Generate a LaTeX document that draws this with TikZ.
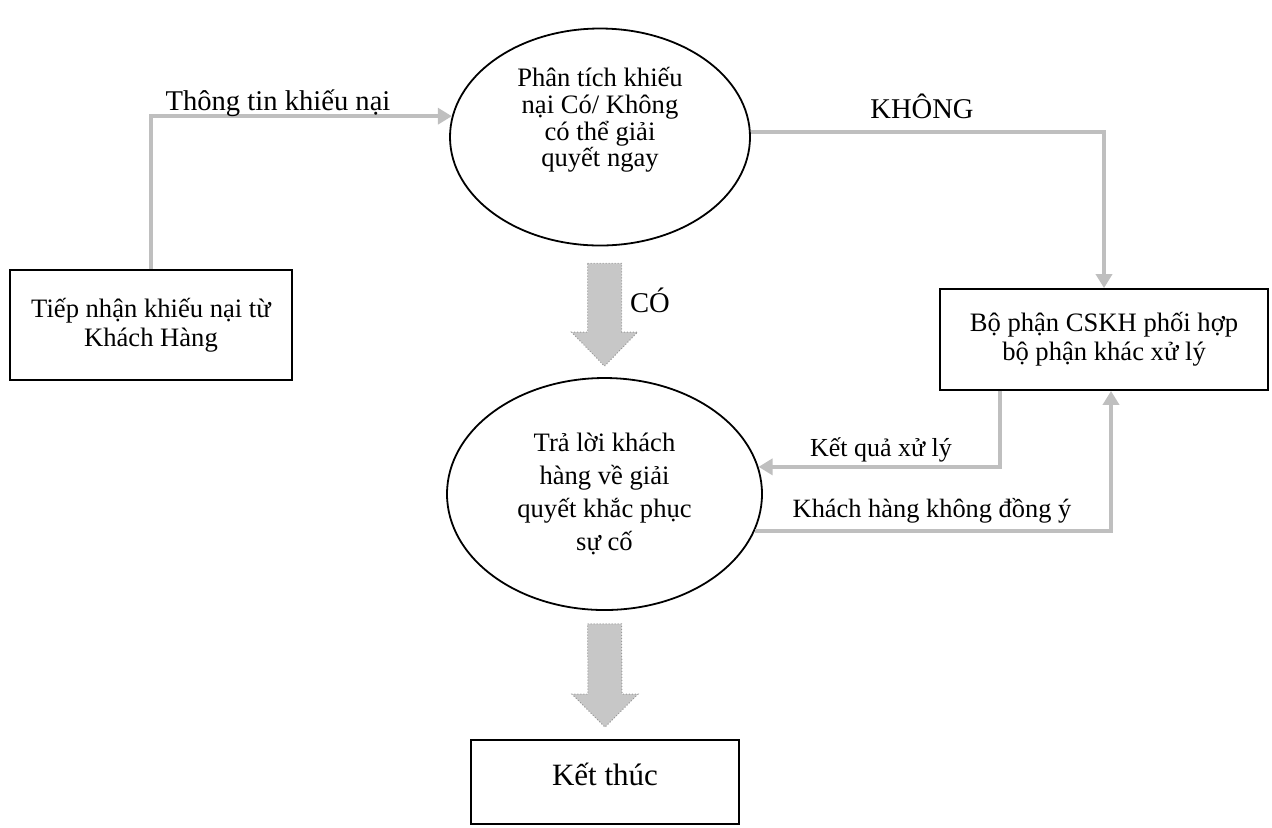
\documentclass[tikz,border=0pt]{standalone}
\usepackage{fontspec}
\setmainfont{Liberation Serif}
\usetikzlibrary{shapes.geometric,arrows.meta,calc}
\begin{document}
\begin{tikzpicture}[x=0.5pt,y=-0.5pt,
  box/.style={draw=black, line width=0.9pt, rectangle, inner sep=0pt, align=center,
    font=\fontsize{13.3}{14.5}\selectfont},
  oval/.style={draw=black, line width=0.9pt, ellipse, inner sep=0pt},
  ovaltext/.style={align=center, inner sep=0pt},
  flow/.style={draw=black!25, line width=2pt, -{Triangle[width=8pt,length=7pt]}},
  lab/.style={anchor=base, inner sep=0pt},
  bigarrow/.style={fill=black!22, draw=black!40, line width=0.5pt, densely dotted}
]
\useasboundingbox (0,0) rectangle (1272,827);

% nodes
\node[box, minimum width=141pt, minimum height=55pt] (b1) at (151,325)
  {Tiếp nhận khiếu nại từ\\Khách Hàng};
\node[oval, minimum width=150pt, minimum height=108.5pt] (e1) at (600,137) {};
\node[ovaltext, font=\fontsize{13.3}{13.3}\selectfont] (e1t) at (600,120)
  {Phân tích khiếu\\nại Có/ Không\\có thể giải\\quyết ngay};
\node[oval, minimum width=157.5pt, minimum height=116pt, align=center,
  font=\fontsize{13.3}{16.5}\selectfont] (e2) at (604.5,494)
  {Trả lời khách\\hàng về giải\\quyết khắc phục\\sự cố};
\node[box, minimum width=164pt, minimum height=50.5pt] (b2) at (1104,339.5)
  {Bộ phận CSKH phối hợp\\bộ phận khác xử lý};
\node[box, minimum width=134pt, minimum height=42pt, text height=10pt, text depth=7pt,
  font=\fontsize{15.5}{17}\selectfont] (b3) at (605,782) {Kết thúc};

% thin connectors
\draw[flow] (b1.north) |- (e1.172);
\draw[flow] (e1.2) -| (b2.north);
\draw[flow] ($(b2.south)+(-104,0)$) |- (e2.10);
\draw[flow] (e2.346) -| ($(b2.south)+(7,0)$);

% big arrows
\coordinate (c1) at ($(e1.south -| e2.north)+(0,17)$);
\coordinate (c2) at ($(e2.north)+(0,-11)$);
\draw[bigarrow] ($(c1)+(-17,0)$) -- ($(c1)+(17,0)$) -- ($(c2)+(17,-34)$)
  -- ($(c2)+(33,-34)$) -- (c2) -- ($(c2)+(-33,-34)$) -- ($(c2)+(-17,-34)$) -- cycle;
\coordinate (c3) at ($(e2.south)+(0,13)$);
\coordinate (c4) at ($(b3.north)+(0,-12)$);
\draw[bigarrow] ($(c3)+(-17,0)$) -- ($(c3)+(17,0)$) -- ($(c4)+(17,-33)$)
  -- ($(c4)+(33,-33)$) -- (c4) -- ($(c4)+(-33,-33)$) -- ($(c4)+(-17,-33)$) -- cycle;

% labels
\node[lab, font=\fontsize{14.3}{16}\selectfont] (l1) at (278,110) {Thông tin khiếu nại};
\node[lab, font=\fontsize{14.3}{16}\selectfont] (l2) at (922,118) {KHÔNG};
\node[lab, font=\fontsize{14.3}{16}\selectfont] (l3) at (650,312) {CÓ};
\node[lab, font=\fontsize{13}{15}\selectfont] (l4) at (881,456) {Kết quả xử lý};
\node[lab, font=\fontsize{13.2}{15}\selectfont] (l5) at (932,517) {Khách hàng không đồng ý};
\end{tikzpicture}
\end{document}
